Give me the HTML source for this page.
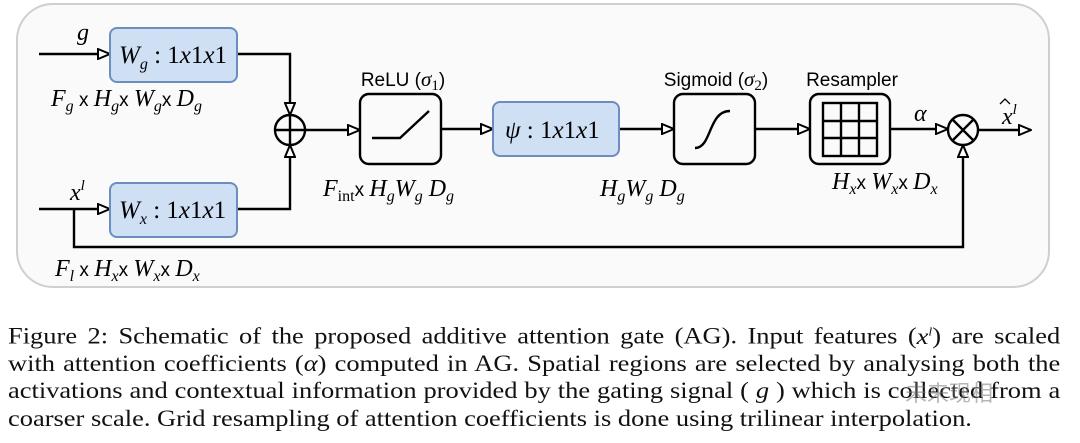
<!DOCTYPE html>
<html><head><meta charset="utf-8"><style>
html,body{margin:0;padding:0;background:#fff;width:1080px;height:443px;overflow:hidden}
svg{position:absolute;left:0;top:0}
.cap{position:absolute;left:8px;top:318px;font-family:"Liberation Serif",serif;font-size:23px;line-height:27.3px;color:#111;transform-origin:0 0;transform:scaleX(1.15)}
.cap div{width:915px;text-align:justify;text-align-last:justify;white-space:nowrap}
.cap div.l{text-align-last:left}
.wm{position:absolute;left:905px;top:376px;font-family:"Noto Sans CJK SC",sans-serif;font-size:22px;color:rgba(120,120,120,0.55)}
</style></head><body>
<svg width="1080" height="310" viewBox="0 0 1080 310" font-family="Liberation Serif, serif">
<defs>
<marker id="a" markerWidth="14" markerHeight="12" refX="13" refY="6" orient="auto" markerUnits="userSpaceOnUse">
<path d="M1,1 L13,6 L1,11 Z" fill="#fff" stroke="#000" stroke-width="2"/></marker>
</defs>
<rect x="17" y="4" width="1032" height="283" rx="36" fill="#fafafa" stroke="#cfcfcf" stroke-width="2"/>
<g stroke="#000" stroke-width="2.4" fill="none">
<path d="M39,54 H110" marker-end="url(#a)"/>
<path d="M39,209 H110" marker-end="url(#a)"/>
<path d="M237,54 H290 V115" marker-end="url(#a)"/>
<path d="M237,209 H290 V145" marker-end="url(#a)"/>
<path d="M74,209 V247 H963 V145" marker-end="url(#a)"/>
<path d="M305,130 H360" marker-end="url(#a)"/>
<path d="M441,129 H493" marker-end="url(#a)"/>
<path d="M619,129 H674" marker-end="url(#a)"/>
<path d="M755,129 H810" marker-end="url(#a)"/>
<path d="M890,129 H948" marker-end="url(#a)"/>
<path d="M978,130 H1031" marker-end="url(#a)"/>
<circle cx="290" cy="130" r="15"/>
<path d="M275,130 H305 M290,115 V145"/>
<circle cx="963" cy="130" r="15"/>
<path d="M952.4,119.4 L973.6,140.6 M973.6,119.4 L952.4,140.6"/>
<rect x="360" y="94" width="81" height="70" rx="9"/>
<path d="M372,138 H400 L429,111"/>
<rect x="674" y="94" width="81" height="70" rx="9"/>
<path d="M695,148 C712,148 708,111 730,111"/>
<rect x="810" y="94" width="80" height="70" rx="9"/>
<rect x="823" y="103" width="54" height="53"/>
<path d="M841,103 V156 M859,103 V156 M823,121 H877 M823,138 H877"/>
</g>
<g fill="#cfe0f5" stroke="#6c8ebf" stroke-width="2">
<rect x="110" y="28" width="127" height="54" rx="7"/>
<rect x="110" y="183" width="127" height="54" rx="7"/>
<rect x="493" y="102" width="126" height="54" rx="7"/>
</g>
<g font-size="25" fill="#000">
<text x="119" y="63"><tspan font-style="italic">W</tspan><tspan font-style="italic" font-size="16" dy="6">g</tspan><tspan dy="-6"> : 1</tspan><tspan font-style="italic">x</tspan>1<tspan font-style="italic">x</tspan>1</text>
<text x="119" y="218"><tspan font-style="italic">W</tspan><tspan font-style="italic" font-size="16" dy="6">x</tspan><tspan dy="-6"> : 1</tspan><tspan font-style="italic">x</tspan>1<tspan font-style="italic">x</tspan>1</text>
<text x="505" y="138"><tspan font-style="italic">ψ</tspan> : 1<tspan font-style="italic">x</tspan>1<tspan font-style="italic">x</tspan>1</text>
</g>
<g font-size="24" fill="#000" font-style="italic">
<text x="77" y="40">g</text>
<text x="70" y="200">x<tspan font-size="15" dy="-10">l</tspan></text>
<text x="914" y="121">α</text>
<text x="1002" y="124">x<tspan font-size="15" dy="-10">l</tspan></text>
<text x="51" y="106">F<tspan font-size="16" dy="5">g</tspan><tspan font-style="normal" font-family="Liberation Sans" font-size="19" dy="-5"> x </tspan>H<tspan font-size="16" dy="5">g</tspan><tspan font-style="normal" font-family="Liberation Sans" font-size="19" dy="-5">x </tspan>W<tspan font-size="16" dy="5">g</tspan><tspan font-style="normal" font-family="Liberation Sans" font-size="19" dy="-5">x </tspan>D<tspan font-size="16" dy="5">g</tspan></text>
<text x="55" y="276">F<tspan font-size="16" dy="5">l</tspan><tspan font-style="normal" font-family="Liberation Sans" font-size="19" dy="-5"> x </tspan>H<tspan font-size="16" dy="5">x</tspan><tspan font-style="normal" font-family="Liberation Sans" font-size="19" dy="-5">x </tspan>W<tspan font-size="16" dy="5">x</tspan><tspan font-style="normal" font-family="Liberation Sans" font-size="19" dy="-5">x </tspan>D<tspan font-size="16" dy="5">x</tspan></text>
<text x="323" y="196">F<tspan font-style="normal" font-size="16" dy="5">int</tspan><tspan font-style="normal" font-family="Liberation Sans" font-size="19" dy="-5">x </tspan>H<tspan font-size="16" dy="5">g</tspan><tspan dy="-5">W</tspan><tspan font-size="16" dy="5">g</tspan><tspan dy="-5">  D</tspan><tspan font-size="16" dy="5">g</tspan></text>
<text x="600" y="196">H<tspan font-size="16" dy="5">g</tspan><tspan dy="-5">W</tspan><tspan font-size="16" dy="5">g</tspan><tspan dy="-5">  D</tspan><tspan font-size="16" dy="5">g</tspan></text>
<text x="832" y="189">H<tspan font-size="16" dy="5">x</tspan><tspan font-style="normal" font-family="Liberation Sans" font-size="19" dy="-5">x </tspan>W<tspan font-size="16" dy="5">x</tspan><tspan font-style="normal" font-family="Liberation Sans" font-size="19" dy="-5">x </tspan>D<tspan font-size="16" dy="5">x</tspan></text>
</g>
<path d="M1000,104 L1005,99 L1010,104" stroke="#000" stroke-width="1.3" fill="none"/>
<g font-family="Liberation Sans, sans-serif" font-size="19" fill="#000" text-anchor="middle">
<text x="403" y="86">ReLU (<tspan font-family="Liberation Serif" font-style="italic" font-size="21">σ</tspan><tspan font-family="Liberation Serif" font-size="15" dy="4">1</tspan><tspan dy="-4">)</tspan></text>
<text x="716" y="86">Sigmoid (<tspan font-family="Liberation Serif" font-style="italic" font-size="21">σ</tspan><tspan font-family="Liberation Serif" font-size="15" dy="4">2</tspan><tspan dy="-4">)</tspan></text>
<text x="852" y="86">Resampler</text>
</g>
</svg>
<div class="cap">
<div>Figure 2: Schematic of the proposed additive attention gate (AG). Input features (<i>x<sup style="font-size:12px">l</sup></i>) are scaled</div>
<div>with attention coefficients (<i>α</i>) computed in AG. Spatial regions are selected by analysing both the</div>
<div>activations and contextual information provided by the gating signal ( <i>g</i> ) which is collected from a</div>
<div class="l">coarser scale. Grid resampling of attention coefficients is done using trilinear interpolation.</div>
</div>
<div class="wm">未来现相</div>
</body></html>
